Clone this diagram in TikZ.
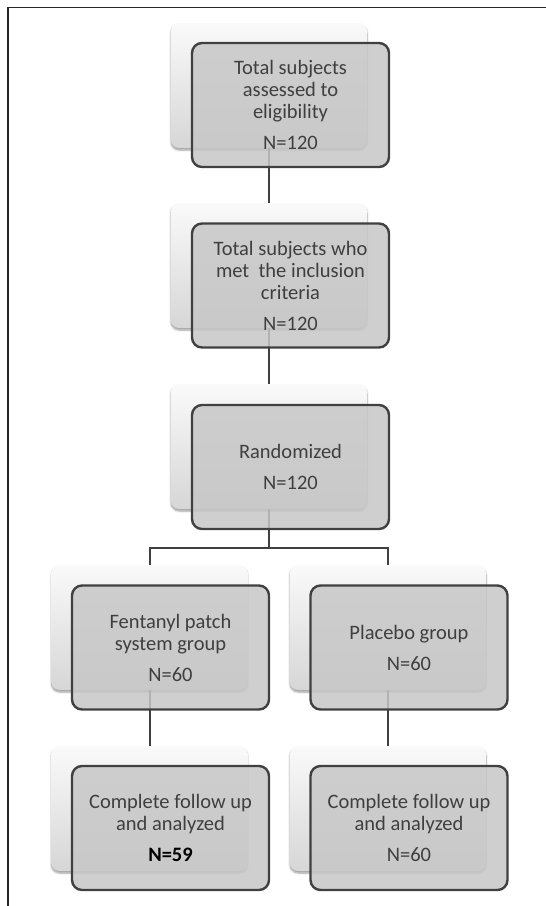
\documentclass[tikz,border=0pt]{standalone}
\usepackage{fontspec}
\setmainfont{Carlito}
\usetikzlibrary{shadows.blur}

\definecolor{boxline}{HTML}{404040}
\definecolor{boxtext}{HTML}{3F3F3F}

\tikzset{
  backbox/.style={rounded corners=8pt,inner sep=0pt,minimum height=125pt,
    minimum width=196pt,top color=black!2,bottom color=black!16,
    blur shadow={shadow xshift=0pt,shadow yshift=-2pt,shadow blur steps=6}},
  frontbox/.style={draw=boxline,line width=2.4pt,rounded corners=10pt,
    inner sep=0pt,minimum height=124pt,minimum width=197pt,
    fill=black!22,fill opacity=0.85,text opacity=1,text=boxtext,
    align=center,font=\fontsize{20.5}{22}\selectfont},
  link/.style={draw=boxline,line width=2pt}
}

\begin{document}
\begin{tikzpicture}[x=1pt,y=-1pt]
    \useasboundingbox (0,0) rectangle (546,906);

    \draw [black!85,line width=1.5pt] (8,906) -- (8,7.5) -- (546,7.5);

    \coordinate (c1) at (269,85.5);
    \coordinate (c2) at (269,265.5);
    \coordinate (c3) at (269,446.5);
    \coordinate (c4) at (149.5,627.5);
    \coordinate (c5) at (388,627.5);
    \coordinate (c6) at (149.5,808.5);
    \coordinate (c7) at (388,808.5);

    \node [backbox] (elig-b) at (c1) {};
    \node [backbox] (incl-b) at (c2) {};
    \node [backbox] (rand-b) at (c3) {};
    \node [backbox] (fent-b) at (c4) {};
    \node [backbox] (plac-b) at (c5) {};
    \node [backbox] (fentdone-b) at (c6) {};
    \node [backbox] (placdone-b) at (c7) {};

    \coordinate (split) at (rand-b.south |- 0,548);

    \draw [link] (elig-b.south) -- (incl-b.north);
    \draw [link] (incl-b.south) -- (rand-b.north);
    \draw [link] (rand-b.south) -- (split);
    \draw [link] (fent-b.north) |- (split) -| (plac-b.north);
    \draw [link] (fent-b.south) -- (fentdone-b.north);
    \draw [link] (plac-b.south) -- (placdone-b.north);

    \node [frontbox] (elig) at ([shift={(21.5,19.5)}]c1)
      {Total subjects\\ assessed to\\ eligibility\\[9pt] N=120};

    \node [frontbox] (incl) at ([shift={(21.5,20)}]c2)
      {Total subjects who\\ met\ \ the inclusion\\ criteria\\[9pt] N=120};

    \node [frontbox] (rand) at ([shift={(21.5,20.5)}]c3)
      {Randomized\\[9pt] N=120};

    \node [frontbox] (fent) at ([shift={(21,20)}]c4)
      {Fentanyl patch\\ system group\\[9pt] N=60};

    \node [frontbox] (plac) at ([shift={(21,20)}]c5)
      {Placebo group\\[9pt] N=60};

    \node [frontbox] (fentdone) at ([shift={(21,19.5)}]c6)
      {Complete follow up\\ and analyzed\\[9pt] \textcolor{black}{\bfseries N=59}};

    \node [frontbox] (placdone) at ([shift={(21,19.5)}]c7)
      {Complete follow up\\ and analyzed\\[9pt] N=60};
\end{tikzpicture}
\end{document}
